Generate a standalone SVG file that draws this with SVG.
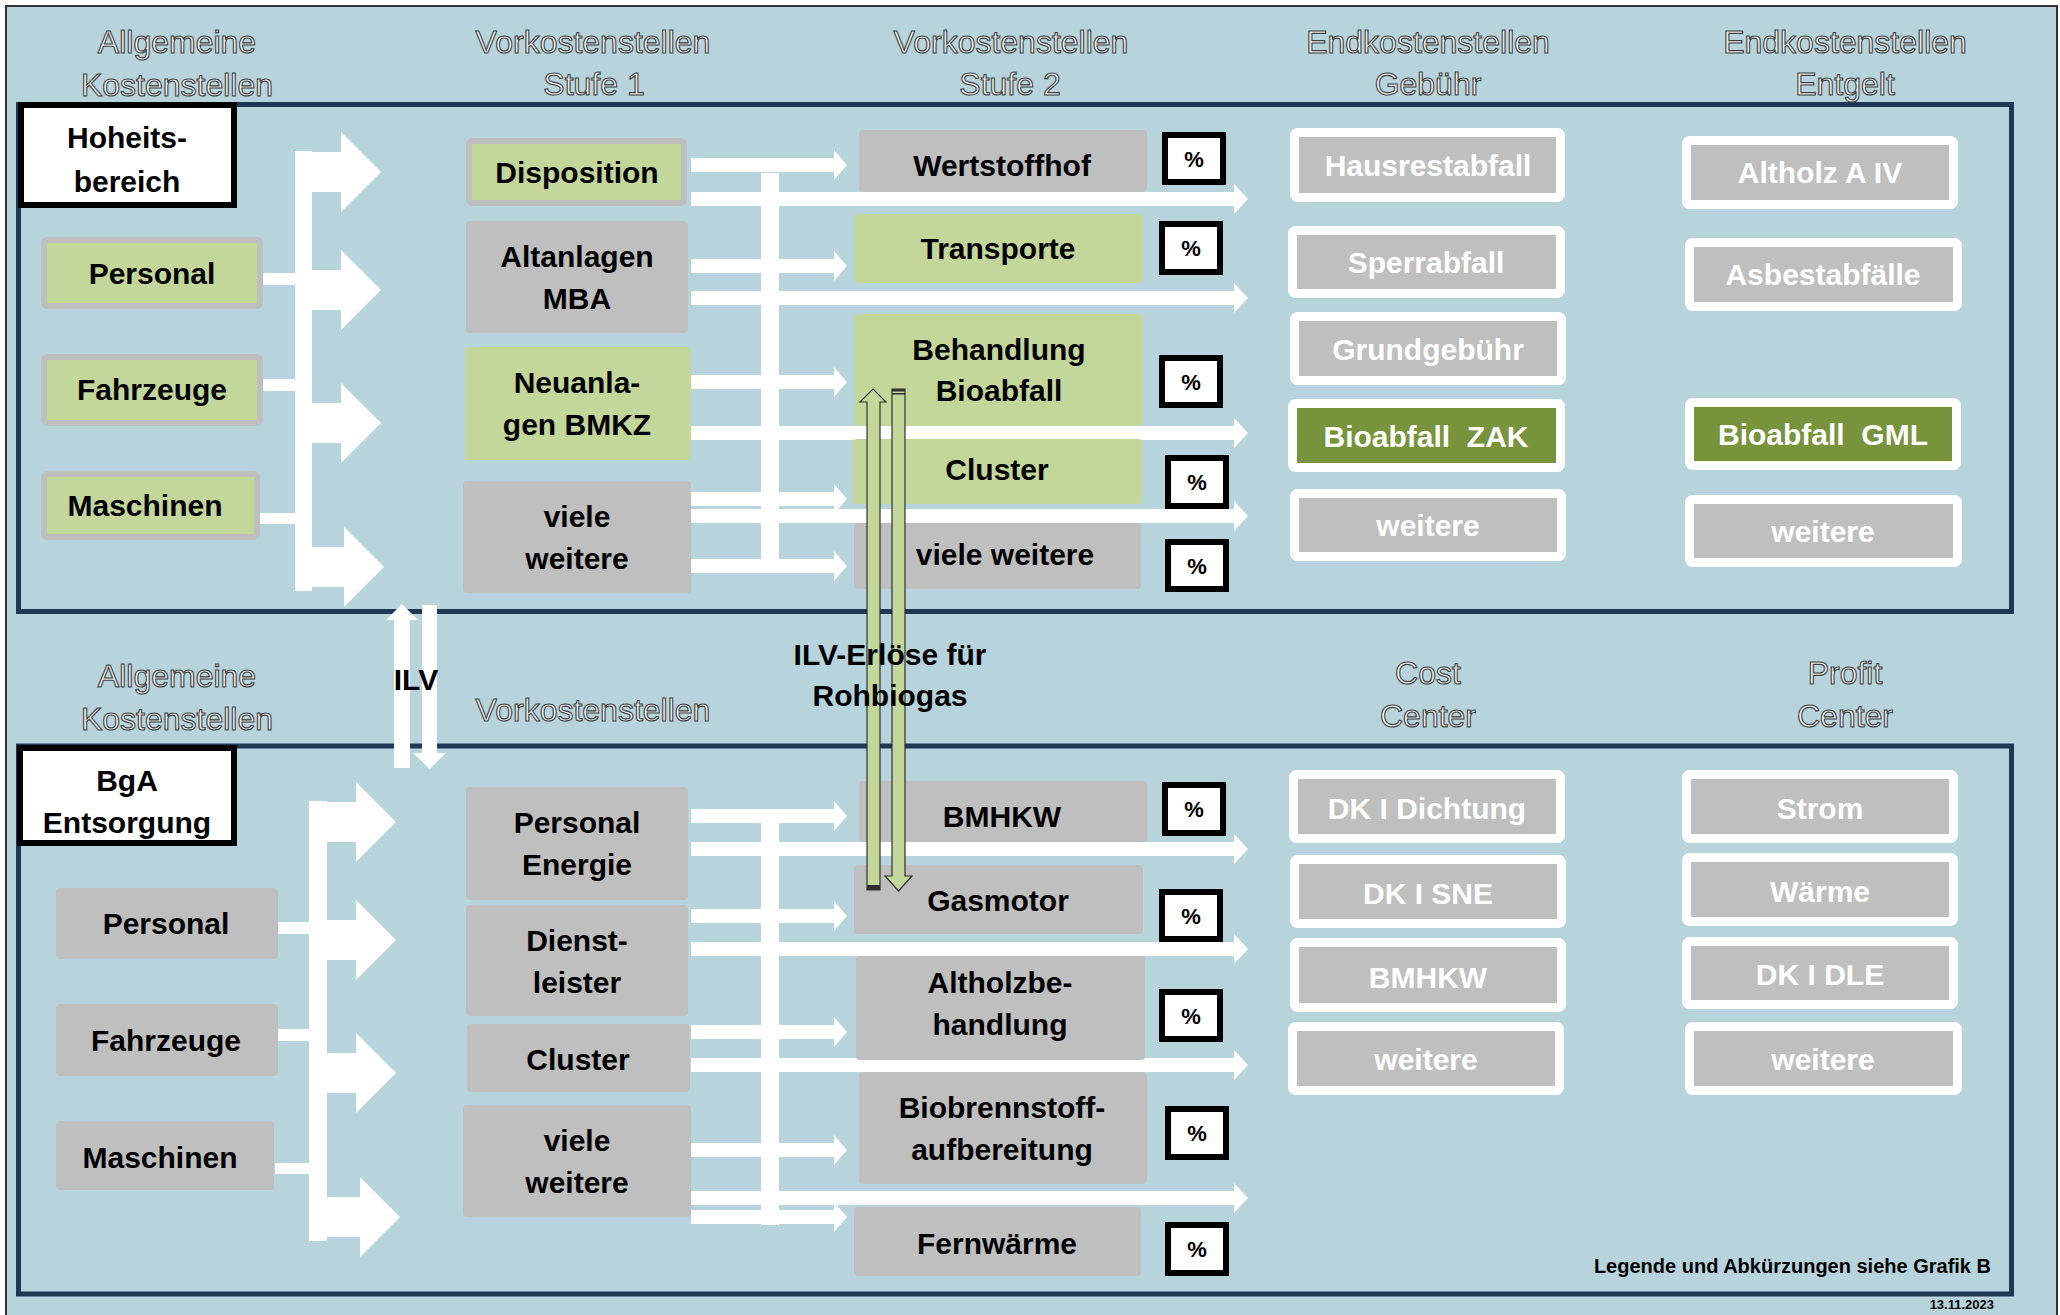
<svg xmlns="http://www.w3.org/2000/svg" xmlns:xlink="http://www.w3.org/1999/xlink" width="2060" height="1315" viewBox="0 0 2060 1315">
<style>
.hdr{font-family:"Liberation Sans",Arial,sans-serif;font-size:32px;fill:#F2F2F2;stroke:#3F3F3F;stroke-width:1.1;text-anchor:middle}
.t{font-family:"Liberation Sans",Arial,sans-serif;font-size:30px;font-weight:bold;fill:#000;text-anchor:middle}
.tw{font-family:"Liberation Sans",Arial,sans-serif;font-size:30px;font-weight:bold;fill:#fff;text-anchor:middle}
.pt{font-family:"Liberation Sans",Arial,sans-serif;font-size:22px;font-weight:bold;fill:#000;text-anchor:middle}
.gray{fill:#BFBFBF}
.green{fill:#C4D79B}
.grnb{fill:#C4D79B;stroke:#BFBFBF;stroke-width:6}
.end{fill:#BFBFBF;stroke:#fff;stroke-width:9}
.endg{fill:#77933C;stroke:#fff;stroke-width:9}
.pct{fill:#fff;stroke:#000;stroke-width:6}
.title{fill:#fff;stroke:#000;stroke-width:6}
.panel{fill:none;stroke:#1F3856;stroke-width:5}
.w{fill:#fff}
.ga{fill:#C4D79B;stroke:#2F2F2F;stroke-width:1.2}
</style>
<defs>
<path id="bigArrow" d="M0,-20 H46 V-40 L86,0 L46,40 V20 H0 Z"/>
<path id="shortArrow" d="M0,-7 H143 V-15 L156,0 L143,15 V7 H0 Z"/>
<path id="longArrow" d="M0,-7 H543 V-15 L557,0 L543,15 V7 H0 Z"/>
</defs>
<rect x="0" y="0" width="2060" height="1315" fill="#fff"/>
<rect x="6" y="6" width="2051" height="1320" fill="#B7D4DC" stroke="#333" stroke-width="2"/>
<g id="panels">
<rect class="panel" x="18.5" y="104.5" width="1993" height="507"/>
<rect class="panel" x="18.5" y="746" width="1993" height="548"/>
</g>
<g id="headers">
<text class="hdr" x="177" y="53">Allgemeine</text>
<text class="hdr" x="177" y="96">Kostenstellen</text>
<text class="hdr" x="593" y="53">Vorkostenstellen</text>
<text class="hdr" x="594" y="95">Stufe 1</text>
<text class="hdr" x="1011" y="53">Vorkostenstellen</text>
<text class="hdr" x="1010" y="95">Stufe 2</text>
<text class="hdr" x="1428" y="53">Endkostenstellen</text>
<text class="hdr" x="1428" y="95">Gebühr</text>
<text class="hdr" x="1845" y="53">Endkostenstellen</text>
<text class="hdr" x="1845" y="95">Entgelt</text>
<text class="hdr" x="177" y="687">Allgemeine</text>
<text class="hdr" x="177" y="730">Kostenstellen</text>
<text class="hdr" x="593" y="721">Vorkostenstellen</text>
<text class="hdr" x="1428" y="684">Cost</text>
<text class="hdr" x="1428" y="727">Center</text>
<text class="hdr" x="1845" y="684">Profit</text>
<text class="hdr" x="1845" y="727">Center</text>
</g>
<g id="connectors">
<rect class="w" x="260" y="273" width="36" height="12"/>
<rect class="w" x="260" y="379" width="36" height="12"/>
<rect class="w" x="257" y="513" width="39" height="11"/>
<rect class="w" x="295" y="151" width="17" height="440"/>
<use href="#bigArrow" class="w" transform="translate(295,172)"/>
<use href="#bigArrow" class="w" transform="translate(295,290)"/>
<use href="#bigArrow" class="w" transform="translate(295,423)"/>
<use href="#bigArrow" class="w" transform="translate(298,567)"/>
<rect class="w" x="275" y="922" width="35" height="12"/>
<rect class="w" x="275" y="1029" width="35" height="12"/>
<rect class="w" x="275" y="1163" width="35" height="11"/>
<rect class="w" x="309" y="801" width="18" height="440"/>
<use href="#bigArrow" class="w" transform="translate(310,822)"/>
<use href="#bigArrow" class="w" transform="translate(310,940)"/>
<use href="#bigArrow" class="w" transform="translate(310,1073)"/>
<use href="#bigArrow" class="w" transform="translate(314,1217)"/>
<rect class="w" x="761" y="173" width="18" height="400"/>
<use href="#shortArrow" class="w" transform="translate(691,165)"/>
<use href="#longArrow" class="w" transform="translate(691,199)"/>
<use href="#shortArrow" class="w" transform="translate(691,266)"/>
<use href="#longArrow" class="w" transform="translate(691,298)"/>
<use href="#shortArrow" class="w" transform="translate(691,382)"/>
<use href="#longArrow" class="w" transform="translate(691,433)"/>
<use href="#shortArrow" class="w" transform="translate(691,499)"/>
<use href="#longArrow" class="w" transform="translate(691,516)"/>
<use href="#shortArrow" class="w" transform="translate(691,566)"/>
<rect class="w" x="761" y="823" width="18" height="402"/>
<use href="#shortArrow" class="w" transform="translate(691,816)"/>
<use href="#longArrow" class="w" transform="translate(691,849)"/>
<use href="#shortArrow" class="w" transform="translate(691,916)"/>
<use href="#longArrow" class="w" transform="translate(691,949)"/>
<use href="#shortArrow" class="w" transform="translate(691,1032)"/>
<use href="#longArrow" class="w" transform="translate(691,1065)"/>
<use href="#shortArrow" class="w" transform="translate(691,1150)"/>
<use href="#longArrow" class="w" transform="translate(691,1198)"/>
<use href="#shortArrow" class="w" transform="translate(691,1217)"/>
</g>
<g id="hoheitsbereich"><rect class="title" x="21" y="105" width="213" height="100"/><text class="t" x="127" y="148">Hoheits-</text><text class="t" x="127" y="192">bereich</text></g>
<g id="h-personal"><rect class="grnb" x="44" y="240" width="216" height="66" rx="3"/><text class="t" x="152" y="284">Personal</text></g>
<g id="h-fahrzeuge"><rect class="grnb" x="44" y="357" width="216" height="66" rx="3"/><text class="t" x="152" y="400">Fahrzeuge</text></g>
<g id="h-maschinen"><rect class="grnb" x="44" y="474" width="213" height="63" rx="3"/><text class="t" x="145" y="516">Maschinen</text></g>
<g id="h-disposition"><rect class="grnb" x="469" y="141" width="215" height="62" rx="3"/><text class="t" x="577" y="183">Disposition</text></g>
<g id="h-altanlagen"><rect class="gray" x="466" y="221" width="222" height="112" rx="4"/><text class="t" x="577" y="267">Altanlagen</text><text class="t" x="577" y="309">MBA</text></g>
<g id="h-neuanlagen"><rect class="green" x="465" y="347" width="226" height="113" rx="4"/><text class="t" x="577" y="393">Neuanla-</text><text class="t" x="577" y="435">gen BMKZ</text></g>
<g id="h-viele1"><rect class="gray" x="463" y="481" width="228" height="112" rx="4"/><text class="t" x="577" y="527">viele</text><text class="t" x="577" y="569">weitere</text></g>
<g id="h-wertstoffhof"><rect class="gray" x="859" y="130" width="288" height="62" rx="4"/><text class="t" x="1002" y="176">Wertstoffhof</text></g>
<g id="h-transporte"><rect class="green" x="854" y="214" width="289" height="69" rx="4"/><text class="t" x="998" y="259">Transporte</text></g>
<g id="h-behandlung"><rect class="green" x="854" y="314" width="289" height="112" rx="4"/><text class="t" x="999" y="360">Behandlung</text><text class="t" x="999" y="401">Bioabfall</text></g>
<g id="h-cluster"><rect class="green" x="853" y="439" width="289" height="65" rx="4"/><text class="t" x="997" y="480">Cluster</text></g>
<g id="h-viele2"><rect class="gray" x="854" y="523" width="287" height="66" rx="4"/><text class="t" x="1005" y="565">viele weitere</text></g>
<g id="h-pct1"><rect class="pct" x="1165" y="135" width="58" height="47"/><text class="pt" x="1194" y="167">%</text></g>
<g id="h-pct2"><rect class="pct" x="1162" y="224" width="58" height="48"/><text class="pt" x="1191" y="256">%</text></g>
<g id="h-pct3"><rect class="pct" x="1162" y="358" width="58" height="47"/><text class="pt" x="1191" y="390">%</text></g>
<g id="h-pct4"><rect class="pct" x="1168" y="458" width="58" height="48"/><text class="pt" x="1197" y="490">%</text></g>
<g id="h-pct5"><rect class="pct" x="1168" y="542" width="58" height="47"/><text class="pt" x="1197" y="574">%</text></g>
<g id="g-hausrestabfall"><rect class="end" x="1294.5" y="132.5" width="266" height="65" rx="3"/><text class="tw" x="1428" y="176">Hausrestabfall</text></g>
<g id="g-sperrabfall"><rect class="end" x="1292.5" y="230.5" width="268" height="63" rx="3"/><text class="tw" x="1426" y="273">Sperrabfall</text></g>
<g id="g-grundgebuehr"><rect class="end" x="1294.5" y="316.5" width="267" height="64" rx="3"/><text class="tw" x="1428" y="360">Grundgebühr</text></g>
<g id="g-bioabfall-zak"><rect class="endg" x="1292.5" y="403.5" width="268" height="64" rx="3"/><text class="tw" x="1426" y="447" xml:space="preserve">Bioabfall  ZAK</text></g>
<g id="g-weitere"><rect class="end" x="1294.5" y="493.5" width="267" height="63" rx="3"/><text class="tw" x="1428" y="536">weitere</text></g>
<g id="e-altholz"><rect class="end" x="1686.5" y="140.5" width="267" height="64" rx="3"/><text class="tw" x="1820" y="183">Altholz A IV</text></g>
<g id="e-asbest"><rect class="end" x="1689.5" y="242.5" width="268" height="64" rx="3"/><text class="tw" x="1823" y="285">Asbestabfälle</text></g>
<g id="e-bioabfall-gml"><rect class="endg" x="1689.5" y="402.5" width="267" height="63" rx="3"/><text class="tw" x="1823" y="445" xml:space="preserve">Bioabfall  GML</text></g>
<g id="e-weitere"><rect class="end" x="1689.5" y="499.5" width="268" height="63" rx="3"/><text class="tw" x="1823" y="542">weitere</text></g>
<g id="bga"><rect class="title" x="20" y="748" width="214" height="95"/><text class="t" x="127" y="791">BgA</text><text class="t" x="127" y="833">Entsorgung</text></g>
<g id="b-personal"><rect class="gray" x="56" y="888" width="222" height="71" rx="4"/><text class="t" x="166" y="934">Personal</text></g>
<g id="b-fahrzeuge"><rect class="gray" x="56" y="1004" width="222" height="72" rx="4"/><text class="t" x="166" y="1051">Fahrzeuge</text></g>
<g id="b-maschinen"><rect class="gray" x="56" y="1121" width="218" height="69" rx="4"/><text class="t" x="160" y="1168">Maschinen</text></g>
<g id="b-personal-energie"><rect class="gray" x="466" y="787" width="222" height="113" rx="4"/><text class="t" x="577" y="833">Personal</text><text class="t" x="577" y="875">Energie</text></g>
<g id="b-dienstleister"><rect class="gray" x="466" y="905" width="222" height="111" rx="4"/><text class="t" x="577" y="951">Dienst-</text><text class="t" x="577" y="993">leister</text></g>
<g id="b-cluster"><rect class="gray" x="467" y="1024" width="223" height="68" rx="4"/><text class="t" x="578" y="1070">Cluster</text></g>
<g id="b-viele"><rect class="gray" x="463" y="1105" width="228" height="112" rx="4"/><text class="t" x="577" y="1151">viele</text><text class="t" x="577" y="1193">weitere</text></g>
<g id="b-bmhkw"><rect class="gray" x="859" y="781" width="288" height="61" rx="4"/><text class="t" x="1002" y="827">BMHKW</text></g>
<g id="b-gasmotor"><rect class="gray" x="854" y="865" width="289" height="69" rx="4"/><text class="t" x="998" y="911">Gasmotor</text></g>
<g id="b-altholz"><rect class="gray" x="856" y="956" width="289" height="104" rx="4"/><text class="t" x="1000" y="993">Altholzbe-</text><text class="t" x="1000" y="1035">handlung</text></g>
<g id="b-biobrennstoff"><rect class="gray" x="859" y="1072" width="288" height="112" rx="4"/><text class="t" x="1002" y="1118">Biobrennstoff-</text><text class="t" x="1002" y="1160">aufbereitung</text></g>
<g id="b-fernwaerme"><rect class="gray" x="854" y="1207" width="287" height="69" rx="4"/><text class="t" x="997" y="1254">Fernwärme</text></g>
<g id="b-pct1"><rect class="pct" x="1165" y="785" width="58" height="48"/><text class="pt" x="1194" y="817">%</text></g>
<g id="b-pct2"><rect class="pct" x="1162" y="892" width="58" height="47"/><text class="pt" x="1191" y="924">%</text></g>
<g id="b-pct3"><rect class="pct" x="1162" y="992" width="58" height="47"/><text class="pt" x="1191" y="1024">%</text></g>
<g id="b-pct4"><rect class="pct" x="1168" y="1109" width="58" height="48"/><text class="pt" x="1197" y="1141">%</text></g>
<g id="b-pct5"><rect class="pct" x="1168" y="1225" width="58" height="48"/><text class="pt" x="1197" y="1257">%</text></g>
<g id="c-dichtung"><rect class="end" x="1293.5" y="774.5" width="267" height="64" rx="3"/><text class="tw" x="1427" y="819">DK I Dichtung</text></g>
<g id="c-sne"><rect class="end" x="1294.5" y="859.5" width="267" height="64" rx="3"/><text class="tw" x="1428" y="904">DK I SNE</text></g>
<g id="c-bmhkw"><rect class="end" x="1294.5" y="942.5" width="267" height="65" rx="3"/><text class="tw" x="1428" y="988">BMHKW</text></g>
<g id="c-weitere"><rect class="end" x="1292.5" y="1026.5" width="267" height="64" rx="3"/><text class="tw" x="1426" y="1070">weitere</text></g>
<g id="p-strom"><rect class="end" x="1686.5" y="774.5" width="267" height="64" rx="3"/><text class="tw" x="1820" y="819">Strom</text></g>
<g id="p-waerme"><rect class="end" x="1686.5" y="857.5" width="267" height="64" rx="3"/><text class="tw" x="1820" y="902">Wärme</text></g>
<g id="p-dle"><rect class="end" x="1686.5" y="941.5" width="267" height="63" rx="3"/><text class="tw" x="1820" y="985">DK I DLE</text></g>
<g id="p-weitere"><rect class="end" x="1689.5" y="1026.5" width="268" height="64" rx="3"/><text class="tw" x="1823" y="1070">weitere</text></g>
<g id="ilv-connectors">
<path class="w" d="M394,768 V620 H386 L402,604 L418,620 H410 V768 Z"/>
<path class="w" d="M422,605 V753 H413 L429.5,769 L446,753 H437 V605 Z"/>
<path class="ga" d="M867,890 V402 H860 L873,389 L886,402 H880 V890 Z"/>
<rect x="867" y="885" width="13" height="5" fill="#2F2F2F"/>
<path class="ga" d="M892,389 V876 H885 L898.5,891 L912,876 H905 V389 Z"/>
<rect x="892" y="389" width="13" height="2.5" fill="#2F2F2F"/>
<rect x="892" y="393" width="13" height="1.5" fill="#2F2F2F"/>
</g>
<g id="labels">
<text class="t" x="416" y="690" font-size="28">ILV</text>
<text class="t" x="890" y="665">ILV-Erlöse für</text>
<text class="t" x="890" y="706">Rohbiogas</text>
<text x="1991" y="1273" font-family="'Liberation Sans',Arial,sans-serif" font-size="20" font-weight="bold" text-anchor="end">Legende und Abkürzungen siehe Grafik B</text>
<text x="1994" y="1309" font-family="'Liberation Sans',Arial,sans-serif" font-size="13" font-weight="bold" text-anchor="end">13.11.2023</text>
</g>
</svg>
